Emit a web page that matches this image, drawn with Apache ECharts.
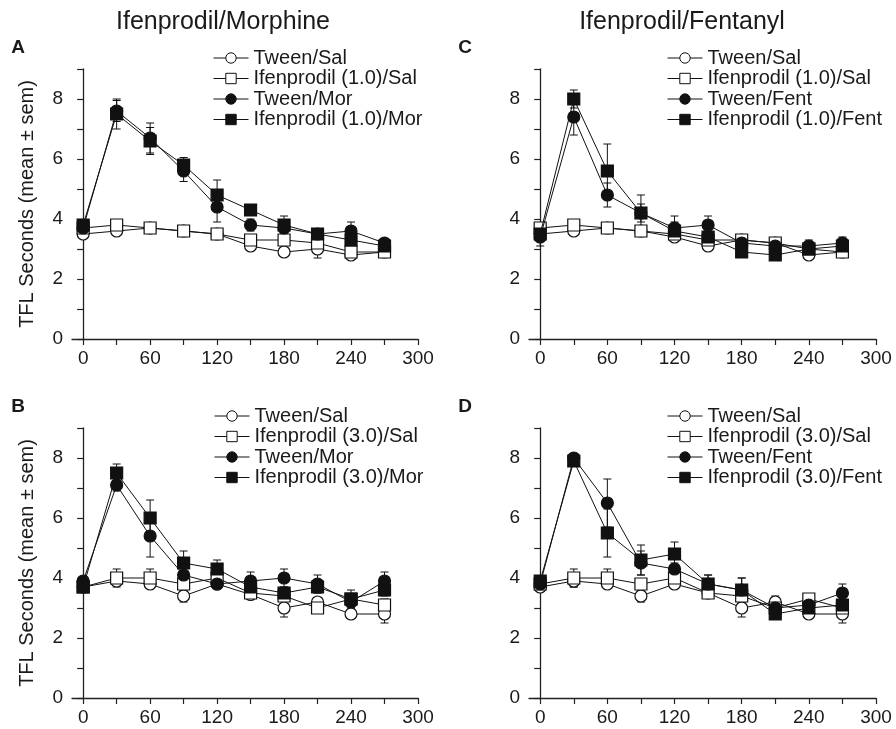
<!DOCTYPE html>
<html>
<head>
<meta charset="utf-8">
<script src="https://cdn.jsdelivr.net/npm/echarts@6/dist/echarts.min.js"></script>
<style>
  html, body { margin: 0; padding: 0; background: #fff; }
  #chart { width: 896px; height: 729px; }
</style>
</head>
<body>
<div id="chart"></div>
<script>
// time points (min)
const times = [0, 30, 60, 90, 120, 150, 180, 210, 240, 270];
const xTicks = [0, 30, 60, 90, 120, 150, 180, 210, 240, 270, 300];
const xLabels = [0, 60, 120, 180, 240, 300];
const yTicks = [0, 1, 2, 3, 4, 5, 6, 7, 8, 9];
const yLabels = [0, 2, 4, 6, 8];

// legend names per panel
const namesA = ["Tween/Sal", "Ifenprodil (1.0)/Sal", "Tween/Mor", "Ifenprodil (1.0)/Mor"];
const namesC = ["Tween/Sal", "Ifenprodil (1.0)/Sal", "Tween/Fent", "Ifenprodil (1.0)/Fent"];
const namesB = ["Tween/Sal", "Ifenprodil (3.0)/Sal", "Tween/Mor", "Ifenprodil (3.0)/Mor"];
const namesD = ["Tween/Sal", "Ifenprodil (3.0)/Sal", "Tween/Fent", "Ifenprodil (3.0)/Fent"];

// means, order: Tween/Sal, Ifen/Sal, Tween/Drug, Ifen/Drug
const meanA = [
  [3.5, 3.6, 3.7, 3.6, 3.5, 3.1, 2.9, 3.0, 2.8, 2.9],
  [3.7, 3.8, 3.7, 3.6, 3.5, 3.3, 3.3, 3.2, 2.9, 2.9],
  [3.7, 7.6, 6.7, 5.6, 4.4, 3.8, 3.7, 3.5, 3.6, 3.2],
  [3.8, 7.5, 6.6, 5.8, 4.8, 4.3, 3.8, 3.5, 3.3, 3.1]
];
const semA = [
  [0.1, 0.15, 0.1, 0.15, 0.15, 0.15, 0.1, 0.3, 0.15, 0.1],
  [0.1, 0.1, 0.1, 0.1, 0.15, 0.1, 0.1, 0.1, 0.1, 0.1],
  [0.15, 0.35, 0.5, 0.35, 0.5, 0.2, 0.2, 0.15, 0.3, 0.15],
  [0.15, 0.5, 0.45, 0.25, 0.5, 0.15, 0.3, 0.15, 0.25, 0.2]
];
const meanC = [
  [3.5, 3.6, 3.7, 3.6, 3.4, 3.1, 3.3, 3.2, 2.8, 2.9],
  [3.7, 3.8, 3.7, 3.6, 3.5, 3.3, 3.3, 3.2, 3.0, 2.9],
  [3.4, 7.4, 4.8, 4.2, 3.7, 3.8, 3.2, 3.1, 3.1, 3.2],
  [3.5, 8.0, 5.6, 4.2, 3.6, 3.4, 2.9, 2.8, 3.0, 3.1]
];
const semC = [
  [0.1, 0.15, 0.1, 0.1, 0.1, 0.15, 0.1, 0.1, 0.15, 0.1],
  [0.1, 0.1, 0.1, 0.1, 0.1, 0.1, 0.1, 0.1, 0.1, 0.1],
  [0.3, 0.6, 0.4, 0.3, 0.4, 0.3, 0.2, 0.2, 0.2, 0.2],
  [0.2, 0.3, 0.9, 0.6, 0.3, 0.2, 0.15, 0.1, 0.15, 0.15]
];
const meanB = [
  [3.7, 3.9, 3.8, 3.4, 3.8, 3.45, 3.0, 3.2, 2.8, 2.8],
  [3.7, 4.0, 4.0, 3.8, 4.0, 3.5, 3.4, 3.0, 3.3, 3.1],
  [3.9, 7.1, 5.4, 4.1, 3.8, 3.9, 4.0, 3.8, 3.2, 3.9],
  [3.7, 7.5, 6.0, 4.5, 4.3, 3.7, 3.5, 3.7, 3.3, 3.6]
];
const semB = [
  [0.1, 0.15, 0.1, 0.2, 0.1, 0.1, 0.3, 0.15, 0.1, 0.3],
  [0.1, 0.3, 0.3, 0.1, 0.1, 0.1, 0.1, 0.1, 0.1, 0.2],
  [0.1, 0.2, 0.7, 0.15, 0.1, 0.3, 0.3, 0.3, 0.2, 0.3],
  [0.1, 0.3, 0.6, 0.4, 0.3, 0.2, 0.2, 0.2, 0.3, 0.2]
];
const meanD = [
  [3.7, 3.9, 3.8, 3.4, 3.8, 3.5, 3.0, 3.2, 2.8, 2.8],
  [3.8, 4.0, 4.0, 3.8, 4.0, 3.5, 3.4, 3.0, 3.3, 3.0],
  [3.8, 8.0, 6.5, 4.5, 4.3, 3.8, 3.6, 3.0, 3.1, 3.5],
  [3.9, 7.9, 5.5, 4.6, 4.8, 3.8, 3.6, 2.8, 3.0, 3.1]
];
const semD = [
  [0.1, 0.2, 0.1, 0.2, 0.1, 0.1, 0.3, 0.2, 0.1, 0.3],
  [0.1, 0.3, 0.3, 0.1, 0.1, 0.1, 0.1, 0.1, 0.15, 0.1],
  [0.1, 0.1, 0.8, 0.4, 0.2, 0.3, 0.4, 0.3, 0.1, 0.3],
  [0.1, 0.1, 0.8, 0.5, 0.4, 0.3, 0.4, 0.1, 0.1, 0.1]
];

const FONT = "'Liberation Sans', Arial, Helvetica, sans-serif";
const INK = "#1a1a1a";

const panels = [
  { names: namesA, mean: meanA, sem: semA, grid: { left: 72, top: 69, width: 346, height: 270 }, legend: { left: 213, top: 48 }, yName: true },
  { names: namesC, mean: meanC, sem: semC, grid: { left: 529, top: 69, width: 347, height: 270 }, legend: { left: 667, top: 48 }, yName: false },
  { names: namesB, mean: meanB, sem: semB, grid: { left: 72, top: 428, width: 346, height: 270 }, legend: { left: 214, top: 406 }, yName: true },
  { names: namesD, mean: meanD, sem: semD, grid: { left: 529, top: 428, width: 347, height: 270 }, legend: { left: 667, top: 406 }, yName: false }
];

const symbols = ["circle", "rect", "circle", "rect"];
const fills = ["#fff", "#fff", "#111", "#111"];

function renderErr(params, api) {
  const x = api.value(0);
  const lo = api.coord([x, api.value(1)]);
  const hi = api.coord([x, api.value(2)]);
  const w = 4;
  const style = { stroke: "#111", lineWidth: 1 };
  return {
    type: "group",
    children: [
      { type: "line", shape: { x1: lo[0], y1: lo[1], x2: hi[0], y2: hi[1] }, style: style },
      { type: "line", shape: { x1: lo[0] - w, y1: lo[1], x2: lo[0] + w, y2: lo[1] }, style: style },
      { type: "line", shape: { x1: hi[0] - w, y1: hi[1], x2: hi[0] + w, y2: hi[1] }, style: style }
    ]
  };
}

const axisLine = { show: true, lineStyle: { color: "#222", width: 1.3 } };
const grid = [], xAxis = [], yAxis = [], legend = [], series = [];

panels.forEach((p, pi) => {
  grid.push(p.grid);
  xAxis.push({
    type: "value", gridIndex: pi, min: -10, max: 300,
    axisLine: axisLine,
    axisTick: { show: true, customValues: xTicks, length: 6, lineStyle: { color: "#222", width: 1.2 } },
    axisLabel: { customValues: xLabels, color: INK, fontSize: 19, fontFamily: FONT, margin: 10 },
    splitLine: { show: false }
  });
  yAxis.push({
    type: "value", gridIndex: pi, min: 0, max: 9,
    name: p.yName ? "TFL Seconds (mean ± sem)" : "",
    nameLocation: "middle", nameRotate: 90, nameGap: 35,
    nameTextStyle: { color: INK, fontSize: 20, fontFamily: FONT },
    axisLine: axisLine,
    axisTick: { show: true, customValues: yTicks, length: 6, lineStyle: { color: "#222", width: 1.2 } },
    axisLabel: { customValues: yLabels, color: INK, fontSize: 19, fontFamily: FONT, margin: 9 },
    splitLine: { show: false }
  });
  legend.push({
    orient: "vertical", left: p.legend.left, top: p.legend.top, padding: 0,
    itemWidth: 35, itemHeight: 13, itemGap: 0.5,
    data: p.names,
    lineStyle: { width: 1 },
    itemStyle: { borderWidth: 1 },
    textStyle: { color: INK, fontSize: 20, fontFamily: FONT, lineHeight: 20 }
  });
  // main series first so the legend takes its icons from them
  p.names.forEach((name, si) => {
    series.push({
      type: "line", name: name, xAxisIndex: pi, yAxisIndex: pi, z: 3 + si,
      symbol: symbols[si], symbolSize: 12, showSymbol: true, animation: false,
      lineStyle: { color: "#111", width: 1 },
      itemStyle: { color: fills[si], borderColor: "#111", borderWidth: 1.2 },
      data: times.map((t, i) => [t, p.mean[si][i]])
    });
  });
  p.names.forEach((name, si) => {
    series.push({
      type: "custom", name: name + " sem", xAxisIndex: pi, yAxisIndex: pi, z: 1,
      renderItem: renderErr, silent: true,
      encode: { x: 0, y: [1, 2] },
      data: times.map((t, i) => [t, p.mean[si][i] - p.sem[si][i], p.mean[si][i] + p.sem[si][i]])
    });
  });
});

const chart = echarts.init(document.getElementById("chart"));
chart.setOption({
  animation: false,
  backgroundColor: "#fff",
  grid: grid, xAxis: xAxis, yAxis: yAxis, legend: legend, series: series,
  graphic: [
    { type: "text", x: 223, y: 22, style: { text: "Ifenprodil/Morphine", fill: INK, font: "25px " + FONT, align: "center", verticalAlign: "middle" } },
    { type: "text", x: 682, y: 22, style: { text: "Ifenprodil/Fentanyl", fill: INK, font: "25px " + FONT, align: "center", verticalAlign: "middle" } },
    { type: "text", x: 18, y: 48, style: { text: "A", fill: INK, font: "bold 19px " + FONT, align: "center", verticalAlign: "middle" } },
    { type: "text", x: 465, y: 48, style: { text: "C", fill: INK, font: "bold 19px " + FONT, align: "center", verticalAlign: "middle" } },
    { type: "text", x: 18, y: 407, style: { text: "B", fill: INK, font: "bold 19px " + FONT, align: "center", verticalAlign: "middle" } },
    { type: "text", x: 465, y: 407, style: { text: "D", fill: INK, font: "bold 19px " + FONT, align: "center", verticalAlign: "middle" } }
  ]
});
</script>
</body>
</html>
